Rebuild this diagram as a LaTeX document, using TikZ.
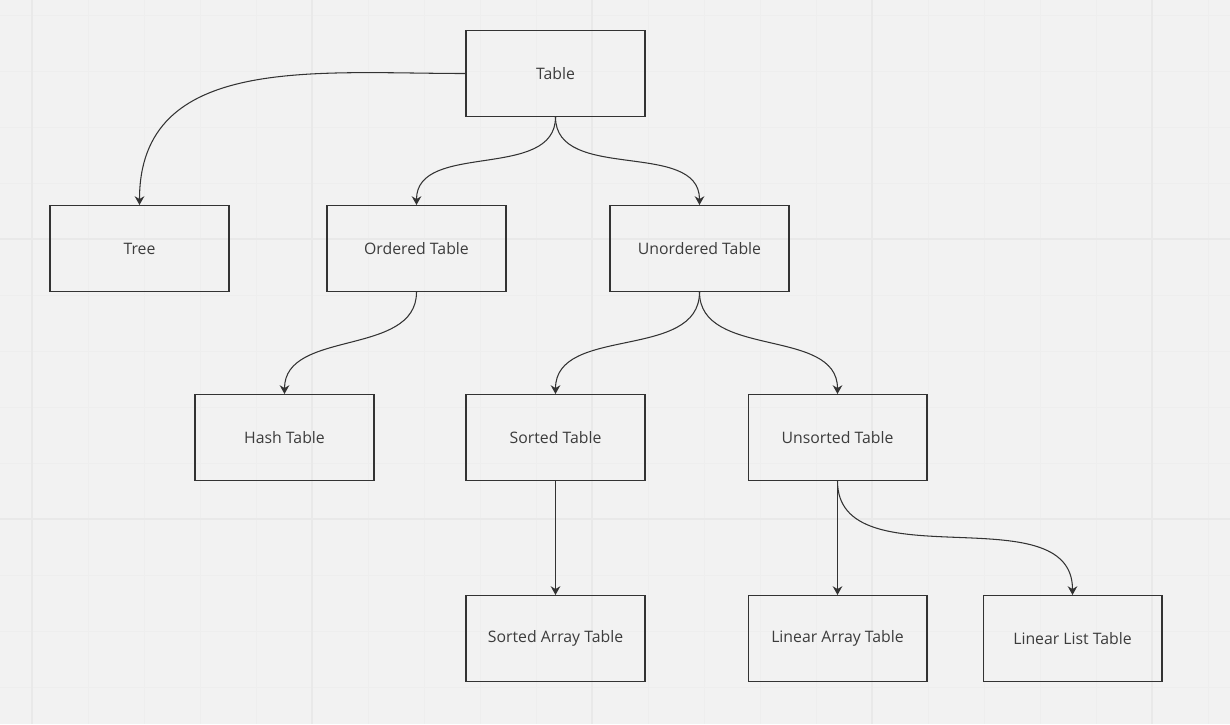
\documentclass[tikz,border=0pt]{standalone}
\usepackage{fontspec}
\setmainfont{Open Sans}
\usetikzlibrary{arrows.meta}
\definecolor{bgcolor}{RGB}{242,242,242}
\definecolor{minorcolor}{RGB}{238,238,238}
\definecolor{majorcolor}{RGB}{233,233,233}
\definecolor{inkcolor}{RGB}{51,51,51}
\definecolor{textcolor}{RGB}{60,60,60}

\begin{document}
\begin{tikzpicture}[x=0.02cm, y=-0.02cm, >={Stealth[length=5pt,width=5.5pt]},
    box/.style={draw=inkcolor, line width=0.6pt, minimum width=3.58cm, minimum height=1.72cm,
        inner sep=0pt, text=textcolor, font=\fontsize{9}{11}\selectfont},
    link/.style={->, draw=inkcolor, line width=0.6pt}]
    % Background and grid
    \fill[bgcolor] (0,0) rectangle (1230,724);
    \useasboundingbox (0,0) rectangle (1230,724);
    \foreach \x in {32,88,...,1230}
        \draw[minorcolor, line width=0.5pt] (\x,0) -- (\x,724);
    \foreach \y in {15,71,...,724}
        \draw[minorcolor, line width=0.5pt] (0,\y) -- (1230,\y);
    \foreach \x in {32,312,592,872,1152}
        \draw[majorcolor, line width=0.8pt] (\x,0) -- (\x,724);
    \foreach \y in {239,519}
        \draw[majorcolor, line width=0.8pt] (0,\y) -- (1230,\y);

    % Boxes
    \node[box] (table) at (555.5,73.5) {Table};
    \node[box] (tree) at (139.5,248.5) {Tree};
    \node[box] (ordered) at (416.5,248.5) {Ordered Table};
    \node[box] (unordered) at (699.5,248.5) {Unordered Table};
    \node[box] (hash) at (284.5,437.5) {Hash Table};
    \node[box] (sorted) at (555.5,437.5) {Sorted Table};
    \node[box] (unsorted) at (837.5,437.5) {Unsorted Table};
    \node[box] (sortedarray) at (555.5,638.5) {Sorted Array Table};
    \node[box] (lineararray) at (837.5,638.5) {Linear Array Table};
    \node[box] (linearlist) at (1072.5,638.5) {Linear List Table};

    % Connectors
    \draw[link] (table.west) to[out=180, in=90, looseness=1.1] (tree.north);
    \draw[link] (table.south) to[out=-90, in=90] (ordered.north);
    \draw[link] (table.south) to[out=-90, in=90] (unordered.north);
    \draw[link] (ordered.south) to[out=-90, in=90] (hash.north);
    \draw[link] (unordered.south) to[out=-90, in=90] (sorted.north);
    \draw[link] (unordered.south) to[out=-90, in=90] (unsorted.north);
    \draw[link] (sorted.south) -- (sortedarray.north);
    \draw[link] (unsorted.south) -- (lineararray.north);
    \draw[link] (unsorted.south) to[out=-90, in=90] (linearlist.north);
\end{tikzpicture}
\end{document}
